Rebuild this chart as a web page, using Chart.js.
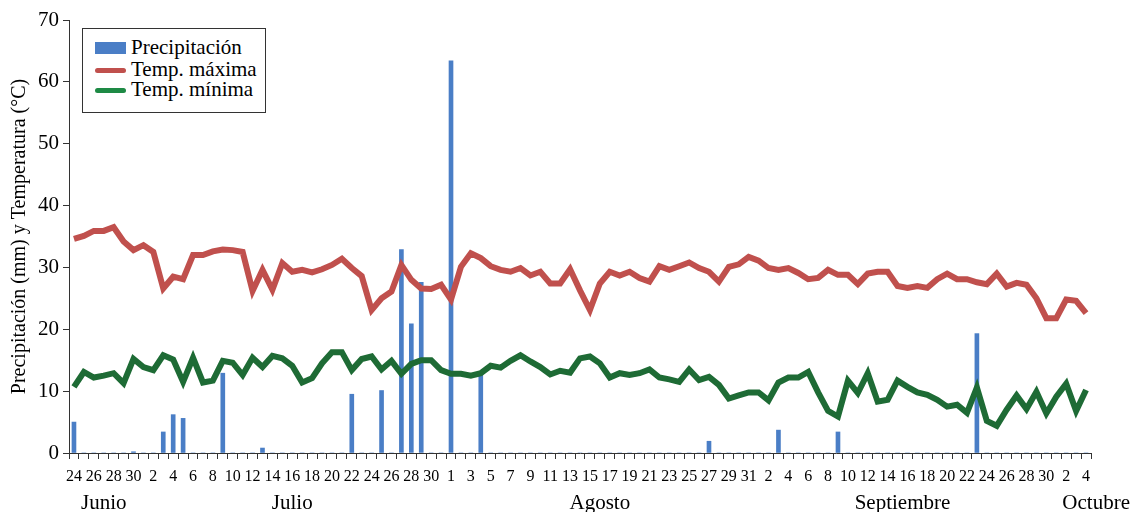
<!DOCTYPE html>
<html lang="es">
<head>
  <meta charset="UTF-8" />
  <title>Precipitación y temperaturas</title>
  <script src="https://cdn.jsdelivr.net/npm/chart.js"></script>
  <style>
    body { margin: 0; background: #fff; }
    #marco { position: relative; width: 1132px; height: 512px; }
    #leyenda {
      position: absolute; left: 82px; top: 28px; width: 182px; height: 83px;
      border: 1px solid #333; background: #fff;
      font-family: "Liberation Serif", serif; font-size: 21px; color: #000;
    }
    #leyenda div { position: absolute; left: 48px; line-height: 21px; }
    #leyenda span { position: absolute; left: 12px; width: 31px; }
  </style>
</head>
<body>
<div id="marco">
  <canvas id="grafico" width="1132" height="512"></canvas>
  <div id="leyenda">
    <span style="top:13px;height:12px;background:#4a7ec6"></span>
    <div style="top:8px">Precipitación</div>
    <span style="top:39px;height:5px;border-radius:3px;background:#c0504d"></span>
    <div style="top:30px">Temp. máxima</div>
    <span style="top:59px;height:5px;border-radius:3px;background:#1e8a45"></span>
    <div style="top:50px">Temp. mínima</div>
  </div>
</div>

<script>
  // Días de cada mes (categorías del eje X)
  const diasJunio = [24, 25, 26, 27, 28, 29, 30];
  const diasJulio = [1, 2, 3, 4, 5, 6, 7, 8, 9, 10, 11, 12, 13, 14, 15, 16, 17, 18, 19, 20,
    21, 22, 23, 24, 25, 26, 27, 28, 29, 30, 31];
  const diasAgosto = [1, 2, 3, 4, 5, 6, 7, 8, 9, 10, 11, 12, 13, 14, 15, 16, 17, 18, 19, 20,
    21, 22, 23, 24, 25, 26, 27, 28, 29, 30, 31];
  const diasSeptiembre = [1, 2, 3, 4, 5, 6, 7, 8, 9, 10, 11, 12, 13, 14, 15, 16, 17, 18, 19, 20,
    21, 22, 23, 24, 25, 26, 27, 28, 29, 30];
  const diasOctubre = [1, 2, 3, 4];
  const meses = ['Junio', 'Julio', 'Agosto', 'Septiembre', 'Octubre'];
  const diasPorMes = [diasJunio, diasJulio, diasAgosto, diasSeptiembre, diasOctubre];

  // Precipitación diaria (mm)
  const precipitacion = [
    5.0, 0, 0, 0, 0, 0, 0.2,
    0, 0, 3.4, 6.2, 5.6, 0, 0, 0, 12.9, 0, 0, 0, 0.8, 0, 0, 0, 0, 0, 0, 0, 0, 9.5, 0, 0, 10.1,
    0, 32.9, 20.9, 27.6, 0, 0,
    63.4, 0, 0, 13.0, 0, 0, 0, 0, 0, 0, 0, 0, 0, 0, 0, 0, 0, 0, 0, 0, 0, 0, 0, 0, 0, 0, 1.9,
    0, 0, 0, 0,
    0, 0, 3.7, 0, 0, 0, 0, 0, 3.4, 0, 0, 0, 0, 0, 0, 0, 0, 0, 0, 0, 0, 0, 19.3, 0, 0, 0, 0,
    0, 0, 0,
    0, 0, 0, 0
  ];

  // Temperatura máxima (°C)
  const tempMaxima = [
    34.6, 35.1, 35.9, 35.9, 36.5, 34.2, 32.8,
    33.6, 32.5, 26.6, 28.5, 28.1, 32.0, 32.0, 32.6, 32.9, 32.8, 32.5, 26.2, 29.6, 26.4, 30.7,
    29.3, 29.6, 29.2, 29.7, 30.4, 31.4, 29.9, 28.6, 23.1, 25.0, 26.1, 30.4, 28.0, 26.6, 26.5, 27.2,
    24.8, 30.1, 32.3, 31.5, 30.2, 29.6, 29.3, 29.9, 28.7, 29.3, 27.4, 27.4, 29.7, 26.3, 23.1,
    27.4, 29.3, 28.7, 29.3, 28.3, 27.7, 30.2, 29.6, 30.2, 30.8, 29.9, 29.3, 27.7, 30.1, 30.5, 31.7,
    31.1, 29.9, 29.6, 29.9, 29.1, 28.1, 28.3, 29.6, 28.8, 28.8, 27.3, 29.0, 29.3, 29.3, 27.0,
    26.7, 27.0, 26.7, 28.1, 29.0, 28.1, 28.1, 27.6, 27.3, 29.0, 26.9, 27.5, 27.2, 25.0, 21.8,
    21.8, 24.8, 24.6, 22.6
  ];

  // Temperatura mínima (°C)
  const tempMinima = [
    10.7, 13.1, 12.2, 12.5, 12.9, 11.3, 15.2,
    13.9, 13.4, 15.8, 15.1, 11.5, 15.4, 11.4, 11.7, 14.9, 14.6, 12.6, 15.4, 13.9, 15.7, 15.3,
    14.1, 11.4, 12.1, 14.5, 16.3, 16.3, 13.4, 15.2, 15.6, 13.5, 14.9, 12.8, 14.4, 15.0, 15.0, 13.4,
    12.8, 12.8, 12.5, 12.9, 14.1, 13.8, 14.9, 15.8, 14.8, 13.9, 12.7, 13.3, 13.0, 15.3, 15.6,
    14.5, 12.2, 12.9, 12.6, 12.9, 13.5, 12.2, 11.9, 11.5, 13.5, 11.8, 12.3, 11.0, 8.8, 9.3, 9.8,
    9.8, 8.5, 11.4, 12.2, 12.2, 13.1, 9.8, 6.8, 5.9, 11.7, 9.7, 12.9, 8.3, 8.6, 11.7,
    10.7, 9.8, 9.4, 8.6, 7.5, 7.8, 6.5, 10.6, 5.2, 4.4, 7.0, 9.3, 7.1, 9.9, 6.4,
    9.1, 11.2, 6.8, 10.2
  ];

  const dias = [].concat(...diasPorMes);
  const fuente = '"Liberation Serif", "Times New Roman", serif';
  const colorEje = '#333';

  // Nombres de los meses bajo los días
  const etiquetasMes = {
    id: 'etiquetasMes',
    afterDraw(chart) {
      const ctx = chart.ctx;
      const x = chart.scales.x;
      ctx.save();
      ctx.font = '21px ' + fuente;
      ctx.fillStyle = '#000';
      ctx.textBaseline = 'middle';
      let inicio = 0;
      diasPorMes.forEach((lista, i) => {
        const fin = inicio + lista.length - 1;
        const centro = (x.getPixelForValue(inicio) + x.getPixelForValue(fin)) / 2;
        if (i === meses.length - 1) {
          // el último mes no cabe centrado: se pega al borde derecho
          ctx.textAlign = 'right';
          ctx.fillText(meses[i], chart.width - 2, 503);
        } else {
          ctx.textAlign = 'center';
          ctx.fillText(meses[i], centro, 503);
        }
        inicio = fin + 1;
      });
      ctx.restore();
    }
  };

  new Chart(document.getElementById('grafico'), {
    type: 'bar',
    data: {
      labels: dias,
      datasets: [
        {
          type: 'line',
          label: 'Temp. máxima',
          data: tempMaxima,
          borderColor: '#c0504d',
          borderWidth: 6,
          pointRadius: 0,
          tension: 0,
          order: 1
        },
        {
          type: 'line',
          label: 'Temp. mínima',
          data: tempMinima,
          borderColor: '#1e6b35',
          borderWidth: 6,
          pointRadius: 0,
          tension: 0,
          order: 2
        },
        {
          label: 'Precipitación',
          data: precipitacion,
          backgroundColor: '#4a7ec6',
          barThickness: 4,
          order: 3
        }
      ]
    },
    options: {
      responsive: false,
      animation: false,
      layout: { padding: { top: 20, right: 41, bottom: 0, left: 0 } },
      plugins: {
        legend: { display: false },
        tooltip: { enabled: false }
      },
      scales: {
        x: {
          offset: true,
          grid: { drawOnChartArea: false, tickLength: 6, color: colorEje, offset: true },
          border: { color: colorEje },
          ticks: {
            autoSkip: false,
            maxRotation: 0,
            minRotation: 0,
            padding: 8,
            color: '#000',
            font: { family: fuente, size: 16 },
            callback: function (valor, i) {
              return i % 2 === 0 ? this.getLabelForValue(valor) : '';
            }
          },
          afterFit: s => { s.height = 59; }
        },
        y: {
          min: 0,
          max: 70,
          grid: { drawOnChartArea: false, tickLength: 6, color: colorEje },
          border: { color: colorEje },
          ticks: {
            stepSize: 10,
            padding: 4,
            color: '#000',
            font: { family: fuente, size: 21 }
          },
          title: {
            display: true,
            text: 'Precipitación (mm) y Temperatura (°C)',
            color: '#000',
            font: { family: fuente, size: 20 },
            padding: { top: 8, bottom: 0 }
          },
          afterFit: s => { s.width = 69; }
        }
      }
    },
    plugins: [etiquetasMes]
  });
</script>
</body>
</html>
